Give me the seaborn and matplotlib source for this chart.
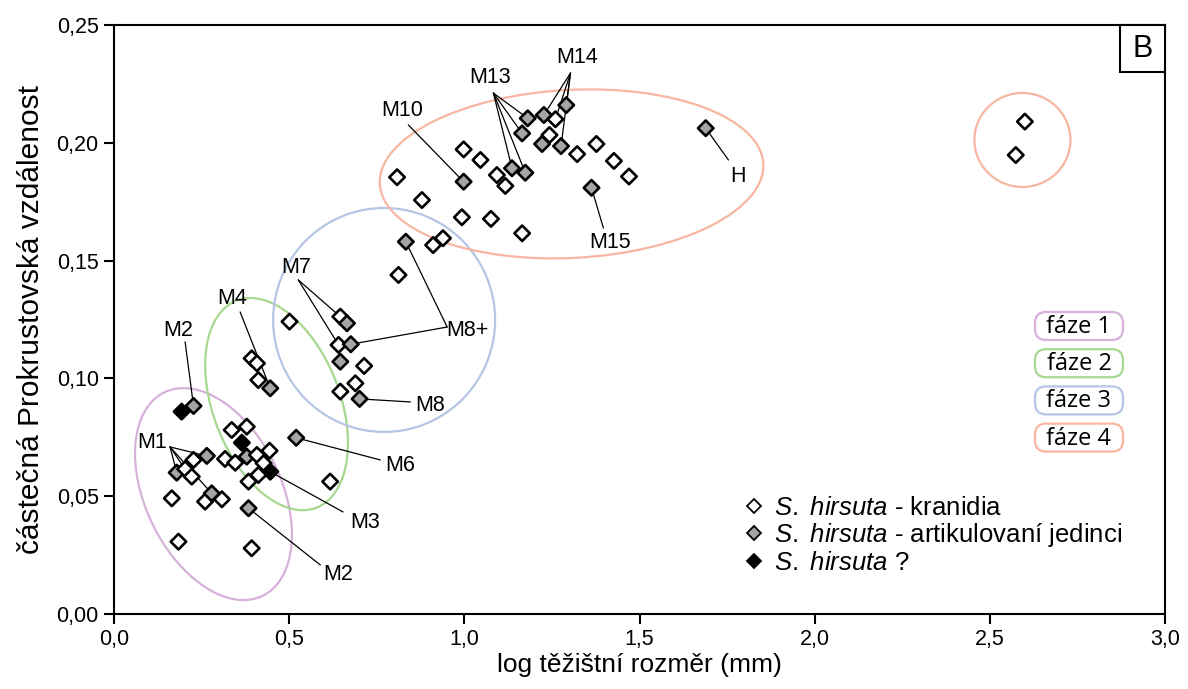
import matplotlib
matplotlib.use("Agg")
import numpy as np
import pandas as pd
import matplotlib.pyplot as plt
import matplotlib.transforms as mtransforms
from matplotlib.patches import Ellipse, FancyBboxPatch, Rectangle
from matplotlib.lines import Line2D
import seaborn as sns

# ---------------- data ----------------
log_size = [0.193, 0.227, 0.265, 0.227, 0.179, 0.203, 0.222, 0.317, 0.346, 0.379,
            0.336, 0.379, 0.365, 0.408, 0.444, 0.427, 0.446, 0.412, 0.384, 0.165,
            0.260, 0.279, 0.308, 0.384, 0.184, 0.393, 0.520, 0.617,
            0.393, 0.408, 0.412, 0.446, 0.501, 0.646, 0.665, 0.641, 0.676, 0.646,
            0.714, 0.689, 0.646, 0.701, 0.812, 0.833, 0.911, 0.939,
            0.808, 0.879, 0.998, 0.998, 1.046, 0.993, 1.076, 1.093, 1.117, 1.136,
            1.174, 1.165, 1.181, 1.227, 1.260, 1.291, 1.243, 1.222, 1.276, 1.322,
            1.377, 1.427, 1.470, 1.363, 1.165, 1.689, 2.600, 2.574]
procrustes = [0.0859, 0.0883, 0.0671, 0.0654, 0.0600, 0.0615, 0.0583, 0.0658, 0.0642, 0.0668,
              0.0781, 0.0795, 0.0727, 0.0675, 0.0693, 0.0640, 0.0604, 0.0590, 0.0562, 0.0491,
              0.0477, 0.0512, 0.0487, 0.0449, 0.0307, 0.0279, 0.0748, 0.0562,
              0.1085, 0.1064, 0.0993, 0.0958, 0.1241, 0.1262, 0.1234, 0.1142, 0.1145, 0.1071,
              0.1053, 0.0979, 0.0944, 0.0913, 0.1439, 0.1580, 0.1566, 0.1595,
              0.1854, 0.1757, 0.1835, 0.1972, 0.1927, 0.1684, 0.1677, 0.1863, 0.1817, 0.1892,
              0.1873, 0.2040, 0.2104, 0.2118, 0.2100, 0.2160, 0.2033, 0.1995, 0.1986, 0.1952,
              0.1995, 0.1923, 0.1857, 0.1809, 0.1616, 0.2062, 0.2090, 0.1948]
K, A, Q = "kranidia", "artikulovaní jedinci", "?"
specimen = [Q, A, A, K, A, K, K, K, K, A,
            K, K, Q, K, K, K, Q, K, K, K,
            K, A, K, A, K, K, A, K,
            K, K, K, A, K, K, A, K, A, A,
            K, K, K, A, K, A, K, K,
            K, K, A, K, K, K, K, K, K, A,
            A, A, A, A, K, A, K, A, A, K,
            K, K, K, A, K, A, K, K]

x_ticks = [0.0, 0.5, 1.0, 1.5, 2.0, 2.5, 3.0]
x_tick_labels = ["0,0", "0,5", "1,0", "1,5", "2,0", "2,5", "3,0"]
y_ticks = [0.00, 0.05, 0.10, 0.15, 0.20, 0.25]
y_tick_labels = ["0,00", "0,05", "0,10", "0,15", "0,20", "0,25"]

# annotation: label, indices of specimens pointed to
ann_labels = ["M2", "M1", "M2", "M3", "M6", "M4", "M7", "M8+", "M8",
              "M10", "M13", "M14", "M15", "H"]
ann_targets = [[1], [2, 4, 5, 21], [23], [16], [26], [31], [33, 35], [43, 36], [41],
               [48], [58, 57, 55, 56], [59, 60, 61, 64], [69], [71]]

phase_names = ["fáze 1", "fáze 2", "fáze 3", "fáze 4"]

# ---------------- layout / style ----------------
W, H = 1188, 689
ann_text_pos = [(0.183, 0.1205), (0.109, 0.0726), (0.640, 0.0166), (0.717, 0.0390),
                (0.817, 0.0632), (0.337, 0.1341), (0.520, 0.1469), (1.010, 0.1205),
                (0.903, 0.0887), (0.823, 0.2139), (1.074, 0.2279), (1.323, 0.2364),
                (1.417, 0.1575), (1.780, 0.1859)]
ann_line_start = [(0.203, 0.1155), (0.160, 0.0709), (0.589, 0.0208), (0.654, 0.0433),
                  (0.760, 0.0654), (0.360, 0.1282), (0.526, 0.1418), (0.951, 0.1218),
                  (0.846, 0.0900), (0.840, 0.2076), (1.083, 0.2211), (1.303, 0.2296),
                  (1.397, 0.1638), (1.754, 0.1927)]
phase_colors = ["#d6b2da", "#a6d890", "#b6c5e6", "#f8b6a0"]
# ellipses: (center data x, center data y, width px, height px, angle deg, phase idx)
ellipses = [(0.284, 0.0509, 226, 136, -64.3, 0),
            (0.464, 0.0891, 222, 127, -69.0, 1),
            (0.771, 0.1248, 222, 224, 0.0, 2),
            (1.306, 0.1868, 384, 168, 3.0, 3),
            (2.593, 0.2012, 96, 94, 0.0, 3)]

sns.set_theme(style="white")
plt.rcParams["font.family"] = ["Liberation Sans", "DejaVu Sans"]
plt.rcParams["mathtext.fontset"] = "custom"
plt.rcParams["mathtext.it"] = "Liberation Sans:italic"
plt.rcParams["mathtext.rm"] = "Liberation Sans"
plt.rcParams["text.color"] = "black"
plt.rcParams["axes.labelcolor"] = "black"
plt.rcParams["xtick.color"] = "black"
plt.rcParams["ytick.color"] = "black"

fig = plt.figure(figsize=(W / 100, H / 100), dpi=100)
ax_l, ax_r, ax_t, ax_b = 114, 1165, 25, 614
ax = fig.add_axes([ax_l / W, 1 - ax_b / H, (ax_r - ax_l) / W, (ax_b - ax_t) / H])

df = pd.DataFrame({"x": log_size, "y": procrustes, "typ": specimen})

# ellipses (size in pixels, centred on data coordinates)
for cx, cy, w, h, ang, pi in ellipses:
    tr = mtransforms.Affine2D().scale(fig.dpi / 100.0) + \
        mtransforms.ScaledTranslation(cx, cy, ax.transData)
    ax.add_patch(Ellipse((0, 0), w, h, angle=ang, transform=tr, fill=False,
                         edgecolor=phase_colors[pi], lw=1.6, zorder=1))

# annotation leader lines and labels
for lab, tpos, spos, tg in zip(ann_labels, ann_text_pos, ann_line_start, ann_targets):
    for i in tg:
        ax.plot([spos[0], log_size[i]], [spos[1], procrustes[i]], color="black",
                lw=0.9, zorder=2)
    ax.text(tpos[0], tpos[1], lab, ha="center", va="center", fontsize=15.5,
            color="black", zorder=4)

palette = {K: "white", A: "#a5a5a5", Q: "black"}
sns.scatterplot(data=df, x="x", y="y", hue="typ", palette=palette, marker="D",
                s=62, edgecolor="black", linewidth=1.9, legend=False, ax=ax, zorder=3)

ax.set_xlim(0, 3.0)
ax.set_ylim(0, 0.25)
ax.set_xticks(x_ticks)
ax.set_xticklabels(x_tick_labels)
ax.set_yticks(y_ticks)
ax.set_yticklabels(y_tick_labels)
ax.tick_params(direction="out", length=7, width=1.5, labelsize=15.5, pad=4,
               colors="black", bottom=True, left=True)
for sp in ax.spines.values():
    sp.set_color("black")
    sp.set_linewidth(1.5)
ax.set_xlabel("log těžištní rozměr (mm)", fontsize=19, labelpad=2)
ax.set_ylabel("částečná Prokrustovská vzdálenost", fontsize=21.5, labelpad=8)

# marker legend
handles = [Line2D([], [], marker="D", linestyle="none", markerfacecolor=palette[t],
                  markeredgecolor="black", markersize=7, markeredgewidth=1.3)
           for t in [K, A, Q]]
labels = [r"$\mathit{S.}$ $\mathit{hirsuta}$ - kranidia",
          r"$\mathit{S.}$ $\mathit{hirsuta}$ - artikulovaní jedinci",
          r"$\mathit{S.}$ $\mathit{hirsuta}$ ?"]
ax.legend(handles, labels, loc="upper left",
          bbox_to_anchor=((745 - ax_l) / (ax_r - ax_l), (ax_b - 496) / (ax_b - ax_t)),
          frameon=False, fontsize=18.5, handlelength=0.7, handletextpad=0.42,
          labelspacing=0.05, borderpad=0, borderaxespad=0)

# helper: image-pixel coordinates (y down) -> figure
pxT = mtransforms.Affine2D().scale(1 / W, -1 / H).translate(0, 1) + fig.transFigure

# phase boxes
for k, (name, col) in enumerate(zip(phase_names, phase_colors)):
    cy = 326 + k * 37.2
    fig.add_artist(FancyBboxPatch((1035, cy - 14), 88, 28,
                                  boxstyle="round,pad=0,rounding_size=11",
                                  transform=pxT, fill=True, facecolor="white",
                                  edgecolor=col, lw=1.6, zorder=5))
    fig.text(1079, cy + 1, name, transform=pxT, ha="center", va="center",
             fontsize=17, color="black", family=["Open Sans", "DejaVu Sans"], zorder=6)

# panel letter box
fig.add_artist(Rectangle((1120, ax_t), ax_r - 1120, 47, transform=pxT, fill=True,
                         facecolor="white", edgecolor="black", lw=1.5, zorder=5))
fig.text((1120 + ax_r) / 2, ax_t + 24, "B", transform=pxT, ha="center",
         va="center", fontsize=22, color="black", zorder=6)

fig.savefig("out.png", dpi=100)
